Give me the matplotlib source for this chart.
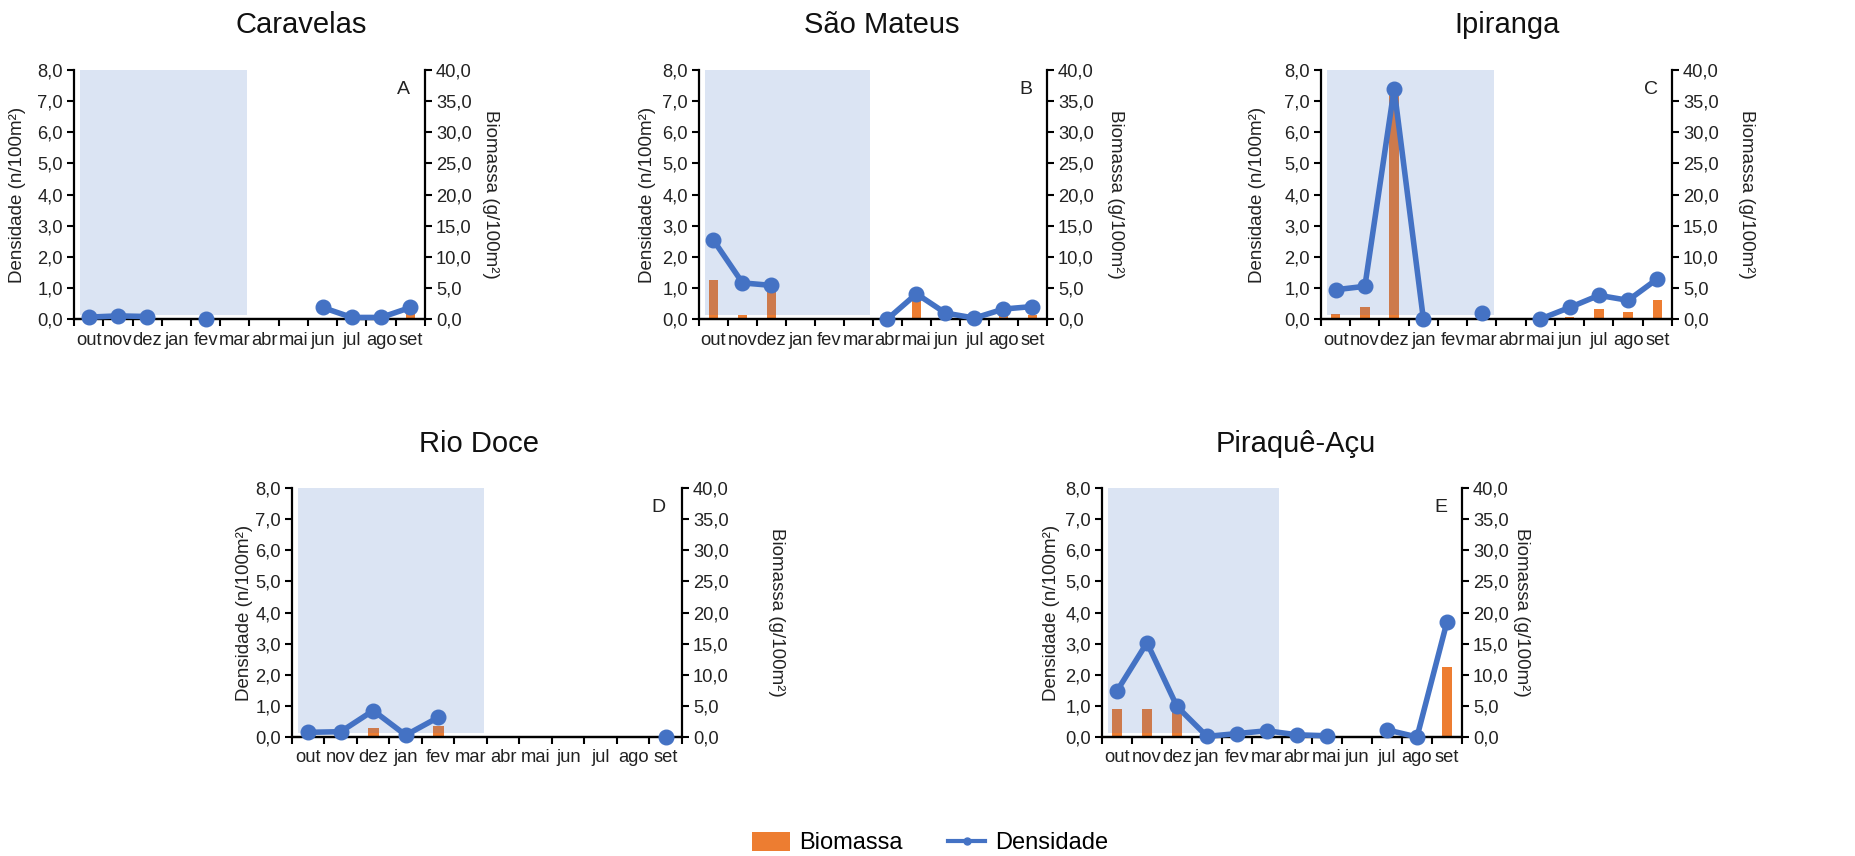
import numpy as np
import matplotlib
matplotlib.use('Agg')
import matplotlib.pyplot as plt
from matplotlib.patches import Patch
from matplotlib.lines import Line2D

plt.rcParams['font.family'] = ['Liberation Sans', 'DejaVu Sans']

nan = np.nan
months = ['out', 'nov', 'dez', 'jan', 'fev', 'mar', 'abr', 'mai', 'jun', 'jul', 'ago', 'set']
titles = ['Caravelas', 'São Mateus', 'Ipiranga', 'Rio Doce', 'Piraquê-Açu']
letters = ['A', 'B', 'C', 'D', 'E']
dens_ticklabels = ['0,0', '1,0', '2,0', '3,0', '4,0', '5,0', '6,0', '7,0', '8,0']
bio_ticklabels = ['0,0', '5,0', '10,0', '15,0', '20,0', '25,0', '30,0', '35,0', '40,0']

# Densidade (n/100m²)
dens_caravelas = [0.06, 0.10, 0.08, nan, 0.0, nan, nan, nan, 0.37, 0.05, 0.05, 0.37]
dens_sao_mateus = [2.53, 1.16, 1.08, nan, nan, nan, 0.0, 0.81, 0.19, 0.03, 0.32, 0.40]
dens_ipiranga = [0.94, 1.05, 7.39, 0.0, nan, 0.19, nan, 0.0, 0.37, 0.76, 0.60, 1.29]
dens_rio_doce = [0.15, 0.17, 0.85, 0.06, 0.63, nan, nan, nan, nan, nan, nan, 0.0]
dens_piraque = [1.48, 3.03, 0.98, 0.02, 0.11, 0.20, 0.07, 0.04, nan, 0.23, 0.0, 3.70]

# Biomassa (g/100m²)
bio_caravelas = [0, 0, 0, 0, 0, 0, 0, 0, 0.2, 0, 0, 1.2]
bio_sao_mateus = [6.2, 0.65, 4.6, 0, 0, 0, 0, 3.4, 0, 0, 0.7, 0.65]
bio_ipiranga = [0.85, 2.0, 36.0, 0, 0, 0, 0, 0, 0.4, 1.6, 1.2, 3.0]
bio_rio_doce = [0, 0, 1.4, 0, 1.8, 0, 0, 0, 0, 0, 0, 0]
bio_piraque = [4.5, 4.5, 4.5, 0, 0, 0, 0, 0, 0, 0, 0, 11.3]

dens_all = [dens_caravelas, dens_sao_mateus, dens_ipiranga, dens_rio_doce, dens_piraque]
bio_all = [bio_caravelas, bio_sao_mateus, bio_ipiranga, bio_rio_doce, bio_piraque]

W, H = 1856, 856
fig = plt.figure(figsize=(W / 100, H / 100), dpi=100)

rects = [(74, 70, 425, 319), (699, 70, 1047, 319), (1321, 70, 1672, 319),
         (292, 488, 682, 737), (1102, 488, 1462, 737)]
title_pos = [(301, 25), (882, 25), (1507, 25), (479, 444), (1296, 444)]
left_off = [56, 51, 63, 47, 50]
right_off = [65, 68, 75, 95, 60]

BLUE = '#4472C4'
ORANGE = '#ED7D31'
FS = 13.2

x = np.arange(len(months))
for i in range(5):
    x0, y0, x1, y1 = rects[i]
    ax = fig.add_axes([x0 / W, 1 - y1 / H, (x1 - x0) / W, (y1 - y0) / H])
    ax2 = ax.twinx()
    ax.set_zorder(2)
    ax2.set_zorder(1)
    ax.patch.set_visible(False)

    ax2.bar(x, bio_all[i], width=0.33, color=ORANGE, zorder=1)
    ax.axvspan(-0.3, 5.4, ymin=0.015, ymax=1.0, color=BLUE, alpha=0.19, lw=0, zorder=1)
    ax.plot(x, dens_all[i], color=BLUE, lw=4, marker='o', ms=10.5, clip_on=False, zorder=3)

    ax.set_xlim(-0.5, 11.5)
    ax.set_ylim(0, 8)
    ax2.set_ylim(0, 40)
    ax.set_yticks(np.arange(0, 9))
    ax.set_yticklabels(dens_ticklabels)
    ax2.set_yticks(np.arange(0, 41, 5))
    ax2.set_yticklabels(bio_ticklabels)
    ax.set_xticks(x)
    ax.set_xticklabels(months)
    ax.set_xticks(np.arange(-0.5, 12, 1), minor=True)
    ax.tick_params(axis='x', which='major', length=0, pad=9, labelsize=FS, labelcolor='#222222')
    ax.tick_params(axis='x', which='minor', length=5, width=1.5, direction='out')
    ax.tick_params(axis='y', length=5, width=1.5, labelsize=FS, pad=3, labelcolor='#222222')
    ax2.tick_params(axis='y', length=5, width=1.5, labelsize=FS, pad=3, labelcolor='#222222')

    for a in (ax, ax2):
        a.spines['top'].set_visible(False)
        for s in ('left', 'right', 'bottom'):
            a.spines[s].set_linewidth(1.6)
            a.spines[s].set_color('black')
    ax.spines['right'].set_visible(False)
    ax2.spines['left'].set_visible(False)

    ax.set_ylabel('Densidade (n/100m²)', fontsize=13.5, va='center', ha='center', color='#222222')
    ax.yaxis.set_label_coords(-left_off[i] / (x1 - x0), 0.5)
    ax2.set_ylabel('Biomassa (g/100m²)', fontsize=13.5, rotation=270, va='center', ha='center', color='#222222')
    ax2.yaxis.set_label_coords(1 + right_off[i] / (x1 - x0), 0.5)

    ax.text(0.94, 0.92, letters[i], transform=ax.transAxes, fontsize=14, ha='center', va='center',
            color='#222222')

    tx, ty = title_pos[i]
    fig.text(tx / W, 1 - ty / H, titles[i], fontsize=21, ha='center', va='center', color='#111111')

handles = [Patch(facecolor=ORANGE, edgecolor='none'),
           Line2D([0], [0], color=BLUE, lw=3, marker='o', ms=5)]
fig.legend(handles, ['Biomassa', 'Densidade'], loc='center', ncol=2,
           bbox_to_anchor=(930 / W, 1 - 843 / H), frameon=False, fontsize=17,
           handlelength=1.6, handleheight=0.85, columnspacing=1.9, handletextpad=0.4)

fig.savefig('out.png', dpi=100, facecolor='white')
